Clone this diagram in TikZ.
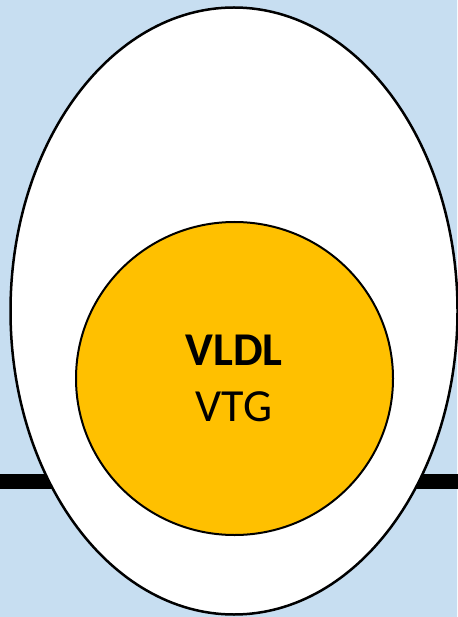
\documentclass[tikz,border=0pt]{standalone}
\usepackage{fontspec}
\setmainfont{Carlito}
\usetikzlibrary{shapes.geometric}
\definecolor{bgmid}{RGB}{183,210,236}
\definecolor{bgedge}{RGB}{199,222,241}
\definecolor{yolk}{RGB}{255,192,0}
\tikzset{
  white/.style={ellipse,draw=black,line width=2.5pt,fill=white,inner sep=0pt},
  yolkstyle/.style={ellipse,draw=black,line width=2pt,fill=yolk,inner sep=0pt},
  lbl/.style={anchor=base,inner sep=0pt,font=\fontsize{46}{46}\selectfont}
}
\begin{document}
\begin{tikzpicture}[x=1pt,y=-1pt]
\useasboundingbox (0,0) rectangle (457,617);
\shade[top color=bgedge,middle color=bgmid,bottom color=bgedge] (0,0) rectangle (457,617);
\coordinate (l) at (-2,481);
\coordinate (r) at (459,481);
\draw[line width=15pt] (l) -- (r);
\node[white,minimum width=447pt,minimum height=607pt] (egg) at (234,311) {};
\node[yolkstyle,minimum width=317pt,minimum height=313pt] (yolkn) at (234.5,378.5) {};
\node[lbl,font=\fontsize{47}{47}\selectfont\bfseries] (vldl) at (234,365) {VLDL};
\node[lbl] (vtg) at (234,421) {VTG};
\end{tikzpicture}
\end{document}
